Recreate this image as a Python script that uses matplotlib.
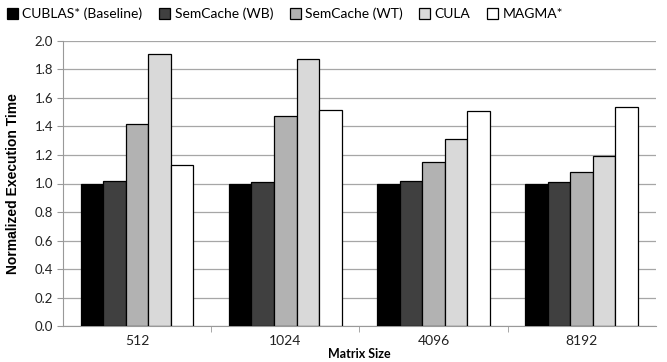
import numpy as np
import matplotlib.pyplot as plt

sizes = ["512", "1024", "4096", "8192"]
series = ["CUBLAS* (Baseline)", "SemCache (WB)", "SemCache (WT)", "CULA", "MAGMA*"]
cublas = [1.00, 1.00, 1.00, 1.00]
semcache_wb = [1.02, 1.01, 1.02, 1.01]
semcache_wt = [1.42, 1.47, 1.15, 1.08]
cula = [1.91, 1.87, 1.31, 1.19]
magma = [1.13, 1.515, 1.51, 1.535]

colors = ["#000000", "#404040", "#b2b2b2", "#d9d9d9", "#ffffff"]
values = [cublas, semcache_wb, semcache_wt, cula, magma]

fig = plt.figure(figsize=(6.67, 3.62), dpi=100)
ax = fig.add_axes([63 / 667, 1 - 326.3 / 362, 592.7 / 667, 285.6 / 362])

x = np.arange(len(sizes))
w = 0.152
for i, (name, vals, c) in enumerate(zip(series, values, colors)):
    ax.bar(x + (i - 2) * w, vals, w, color=c, edgecolor="black", linewidth=0.9,
           label=name, zorder=3)

ax.set_xlim(-0.5, len(sizes) - 0.5)
ax.set_ylim(0, 2.0)
ax.set_yticks(np.arange(0, 2.01, 0.2))
ax.set_yticklabels([f"{v:.1f}" for v in np.arange(0, 2.01, 0.2)],
                   fontname="Lato", fontsize=9.5, color="#222222")
ax.set_xticks(x)
ax.set_xticklabels(sizes, fontname="Lato", fontsize=10, color="#222222")
ax.set_xticks(np.arange(0.5, len(sizes) - 0.5, 1), minor=True)
ax.tick_params(axis="x", which="major", length=0, pad=6)
ax.tick_params(axis="x", which="minor", length=4, color="#999999", direction="out")
ax.tick_params(axis="y", length=4, color="#999999", direction="out", pad=3)

ax.grid(axis="y", color="#a6a6a6", linewidth=0.9, zorder=0)
for s in ["top", "right"]:
    ax.spines[s].set_visible(False)
ax.spines["left"].set_color("#999999")
ax.spines["bottom"].set_color("#999999")

ax.set_ylabel("Normalized Execution Time", fontname="Liberation Sans",
              fontweight="bold", fontsize=10)
ax.yaxis.set_label_coords(-0.072, 0.5)
ax.set_xlabel("Matrix Size", fontname="Lato", fontweight="bold", fontsize=9)
ax.xaxis.set_label_coords(0.5, -0.075)

leg = fig.legend(loc="center", bbox_to_anchor=(285 / 667, 1 - 14 / 362), ncol=5,
                 frameon=False, prop={"family": "Lato", "size": 10},
                 handlelength=0.8, handleheight=0.8, handletextpad=0.3,
                 columnspacing=1.2)

fig.savefig("out.png", dpi=100)
